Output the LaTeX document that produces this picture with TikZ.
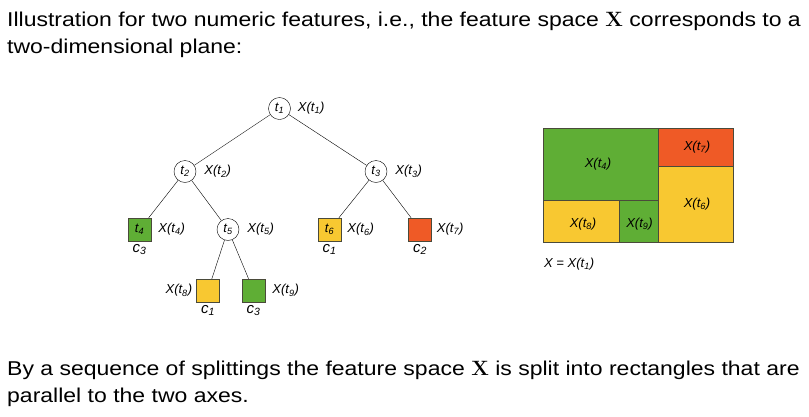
\documentclass[tikz,border=0pt]{standalone}
\usepackage[no-math]{fontspec}
\setmainfont{Liberation Sans}
\newfontfamily\bodyfont[FakeStretch=1.15]{Liberation Sans}
\usetikzlibrary{positioning}
\definecolor{leafgreen}{HTML}{5FAE35}
\definecolor{leafyellow}{HTML}{F8C831}
\definecolor{leafred}{HTML}{EF5A26}
\definecolor{rim}{HTML}{4A4A3A}
\newcommand{\xt}[1]{X(t\textsubscript{#1})}
\newcommand{\tn}[1]{t\textsubscript{#1}}
\newcommand{\cn}[1]{c\textsubscript{#1}}
\tikzset{
  split/.style={circle,draw,minimum size=22pt,inner sep=0pt,font=\fontsize{13}{13}\selectfont\itshape},
  leaf/.style={rectangle,draw=rim,minimum size=23pt,inner sep=0pt,font=\fontsize{13}{13}\selectfont\itshape},
  lab/.style={inner sep=0pt,font=\fontsize{13}{13}\selectfont\itshape},
  cls/.style={inner sep=0pt,font=\fontsize{15}{15}\selectfont\itshape},
  body/.style={inner sep=0pt,anchor=base west,font=\fontsize{20}{20}\bodyfont},
  cell/.style={draw=rim,line width=0.8pt}
}
\begin{document}
\begin{tikzpicture}[x=1pt,y=-1pt]
    \useasboundingbox (0,0) rectangle (809,416);
    % text above and below
    \node[body] (top1) at (7,26) {Illustration for two numeric features, i.e., the feature space $\mathbf{X}$ corresponds to a};
    \node[body] (top2) at (7,53) {two-dimensional plane:};
    \node[body] (bot1) at (7,375) {By a sequence of splittings the feature space $\mathbf{X}$ is split into rectangles that are};
    \node[body] (bot2) at (7,402) {parallel to the two axes.};
    % tree
    \node[split] (t1) at (279.5,108.5) {\tn1};
    \node[split] (t2) at (185,171.5) {\tn2};
    \node[split] (t3) at (376,171.5) {\tn3};
    \node[leaf,fill=leafgreen] (t4) at (139.5,229.5) {\tn4};
    \node[split] (t5) at (228,229.5) {\tn5};
    \node[leaf,fill=leafyellow] (t6) at (329.5,229.5) {\tn6};
    \node[leaf,fill=leafred] (t7) at (420,229.5) {};
    \node[leaf,fill=leafyellow] (t8) at (208,290.5) {};
    \node[leaf,fill=leafgreen] (t9) at (253.5,290.5) {};
    \draw (t1) -- (t2);\draw (t1) -- (t3);
    \draw (t2) -- (t4);\draw (t2) -- (t5);
    \draw (t3) -- (t6);\draw (t3) -- (t7);
    \draw (t5) -- (t8);\draw (t5) -- (t9);
    \node[lab,right=7pt of t1] (x1) {\xt1};
    \node[lab,right=8pt of t2] (x2) {\xt2};
    \node[lab,right=8pt of t3] (x3) {\xt3};
    \node[lab,right=7pt of t4] (x4) {\xt4};
    \node[lab,right=8pt of t5] (x5) {\xt5};
    \node[lab,right=6pt of t6] (x6) {\xt6};
    \node[lab,right=5pt of t7] (x7) {\xt7};
    \node[lab,left=4pt of t8] (x8) {\xt8};
    \node[lab,right=7pt of t9] (x9) {\xt9};
    \node[cls,below=3pt of t4] (c4) {\cn3};
    \node[cls,below=3pt of t6] (c6) {\cn1};
    \node[cls,below=3pt of t7] (c7) {\cn2};
    \node[cls,below=3pt of t8] (c8) {\cn1};
    \node[cls,below=3pt of t9] (c9) {\cn3};
    % feature space
    \filldraw[cell,fill=leafgreen] (543,128) rectangle (658,200);
    \filldraw[cell,fill=leafyellow] (543,200) rectangle (619,242);
    \filldraw[cell,fill=leafgreen] (619,200) rectangle (658,242);
    \filldraw[cell,fill=leafred] (658,128) rectangle (733,166);
    \filldraw[cell,fill=leafyellow] (658,166) rectangle (733,242);
    \node[lab] (r4) at (598,164) {\xt4};
    \node[lab] (r7) at (697,147) {\xt7};
    \node[lab] (r6) at (697,204) {\xt6};
    \node[lab] (r8) at (583,224) {\xt8};
    \node[lab] (r9) at (639.5,224) {\xt9};
    \node[lab,anchor=west] (r1) at (544,264) {X = \xt1};
\end{tikzpicture}
\end{document}
